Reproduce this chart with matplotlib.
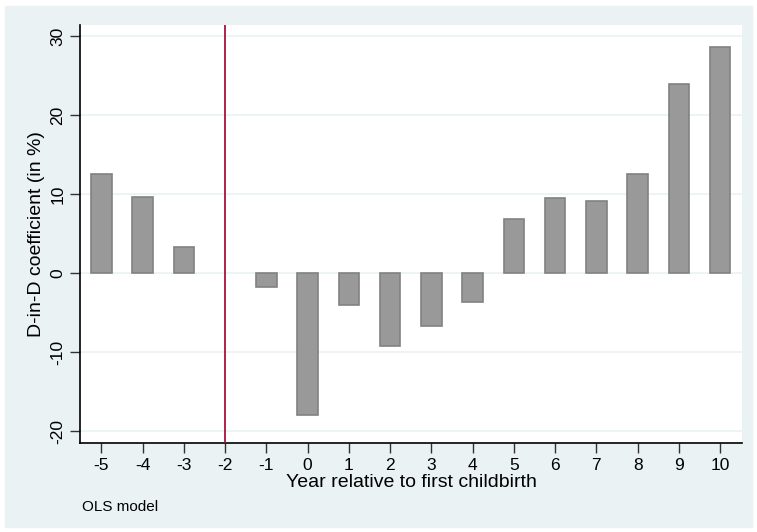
import matplotlib.pyplot as plt
from matplotlib.patches import Rectangle

plt.rcParams['font.family'] = ['Liberation Sans', 'DejaVu Sans']
plt.rcParams['axes.unicode_minus'] = False

# event-time coefficients (in %)
years = [-5, -4, -3, -1, 0, 1, 2, 3, 4, 5, 6, 7, 8, 9, 10]
coef = [12.5, 9.6, 3.3, -1.7, -17.9, -4.0, -9.2, -6.7, -3.6,
        6.9, 9.45, 9.1, 12.6, 23.9, 28.6]
xticks = list(range(-5, 11))
yticks = [-20, -10, 0, 10, 20, 30]
ref_year = -2

bg = '#EAF2F3'
fig = plt.figure(figsize=(7.57, 5.32), dpi=100)
fig.patches.append(Rectangle((5/757, 5/532), 747/757, 521/532,
                             transform=fig.transFigure, color=bg, zorder=-5))

ax = fig.add_axes([80/757, 89/532, 662/757, 418/532])
ax.set_facecolor('white')
ax.bar(years, coef, width=0.5, color='#999999', edgecolor='#828282',
       linewidth=1.2, zorder=3)
ax.axvline(ref_year, color='#A8113A', lw=1.3, zorder=4)

ax.set_xlim(-5.52, 10.53)
ax.set_ylim(-21.5, 31.4)
ax.set_xticks(xticks)
ax.set_yticks(yticks)
ax.set_yticklabels([str(t) for t in yticks], rotation=90, va='center')
ax.grid(axis='y', color=bg, lw=1.2, zorder=1)
ax.tick_params(labelsize=12.5, length=7, width=1, color='#333333')
for s in ['top', 'right']:
    ax.spines[s].set_visible(False)
for s in ['left', 'bottom']:
    ax.spines[s].set_linewidth(1.2)

ax.set_xlabel('Year relative to first childbirth', fontsize=14, labelpad=1)
ax.set_ylabel('D-in-D coefficient (in %)', fontsize=14, labelpad=4)
fig.text(82/757, 1 - 507/532, 'OLS model', fontsize=11, va='center')

fig.savefig('out.png', dpi=100)
